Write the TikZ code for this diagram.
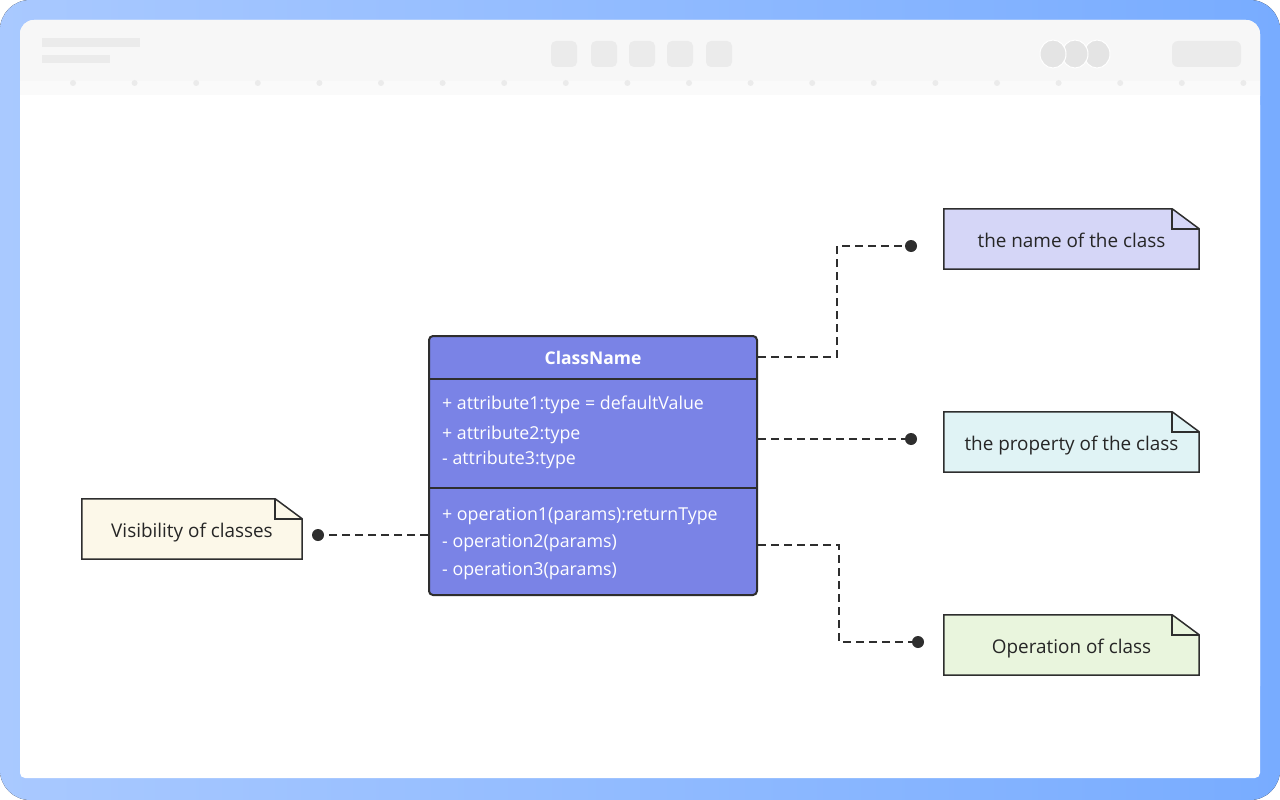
\documentclass[tikz,border=0pt]{standalone}
\usepackage{fontspec}
\setmainfont{Open Sans}
\usetikzlibrary{backgrounds}

\definecolor{frameLeft}{HTML}{A9C9FF}
\definecolor{frameRight}{HTML}{78ACFF}
\definecolor{barGray}{HTML}{F7F7F7}
\definecolor{stripGray}{HTML}{FAFAFA}
\definecolor{knobGray}{HTML}{EBEBEB}
\definecolor{avatarGray}{HTML}{E4E4E4}
\definecolor{classBlue}{HTML}{7A83E6}
\definecolor{lineDark}{HTML}{2E2E2E}
\definecolor{textDark}{HTML}{262626}
\definecolor{nameFill}{HTML}{D5D6F7}
\definecolor{propFill}{HTML}{E0F3F5}
\definecolor{opFill}{HTML}{E9F5DD}
\definecolor{visFill}{HTML}{FCF8E9}

\begin{document}
\begin{tikzpicture}[
        x=1pt, y=-1pt,
        classNode/.style={rectangle, draw=lineDark, line width=2pt, fill=classBlue, rounded corners=4pt, inner sep=0pt},
        memberText/.style={anchor=west, text=white, font=\fontsize{17.8}{20}\selectfont, inner sep=0pt,
            text height=14pt, text depth=0pt},
        noteNode/.style={rectangle, minimum height=60pt, inner sep=0pt, text=textDark, font=\fontsize{18.9}{22}\selectfont,
            text height=16pt, text depth=0pt},
        noteShape/.style={draw=lineDark, line width=1.5pt, line join=miter},
        dotNode/.style={circle, fill=lineDark, minimum size=12pt, inner sep=0pt},
        linkLine/.style={draw=lineDark, line width=2pt, dash pattern=on 8pt off 5pt}
    ]
        % Class box
        \node[classNode, minimum width=328pt, minimum height=259pt] (classBox) at (593,465.5) {};
        \draw[lineDark, line width=2pt] (classBox.west |- 0,379) -- (classBox.east |- 0,379);
        \draw[lineDark, line width=2pt] (classBox.west |- 0,488) -- (classBox.east |- 0,488);
        \node[text=white, font=\bfseries\fontsize{17.5}{21}\selectfont] (classTitle) at (593,358) {ClassName};

        % Attributes and operations
        \node[memberText] (attr1) at (442,402) {+ attribute1:type = defaultValue};
        \node[memberText] (attr2) at (442,432) {+ attribute2:type};
        \node[memberText] (attr3) at (442,457) {- attribute3:type};
        \node[memberText] (op1) at (442,513) {+ operation1(params):returnType};
        \node[memberText] (op2) at (442,540) {- operation2(params)};
        \node[memberText] (op3) at (442,568) {- operation3(params)};

        % Notes
        \node[noteNode, minimum width=255pt] (nameNote) at (1071.5,239) {the name of the class};
        \node[noteNode, minimum width=255pt] (propNote) at (1071.5,442) {the property of the class};
        \node[noteNode, minimum width=255pt] (opNote) at (1071.5,645) {Operation of class};
        \node[noteNode, minimum width=220pt] (visNote) at (192,529) {Visibility of classes};

        % Dots
        \node[dotNode] (nameDot) at (911,246) {};
        \node[dotNode] (propDot) at (911,439) {};
        \node[dotNode] (opDot) at (918,642) {};
        \node[dotNode] (visDot) at (318,535) {};

        % Dashed links
        \draw[linkLine] ([yshift=-22pt]classBox.north east) -- ++(79,0) |- (nameDot);
        \draw[linkLine] (classBox.east |- propDot) -- (propDot);
        \draw[linkLine] ([yshift=-210pt]classBox.north east) -- ++(81,0) |- (opDot);
        \draw[linkLine] (classBox.west |- visDot) -- (visDot);

        \begin{scope}[on background layer]
            % Window frame
            \fill[left color=frameLeft, right color=frameRight, rounded corners=30pt] (0,0) rectangle (1280,800);
            \fill[white, rounded corners=14pt] (20,20) rectangle (1260,700);
            \fill[white, rounded corners=5pt] (20,100) rectangle (1260,778);

            % Toolbar
            \fill[barGray, rounded corners=14pt] (20,20) rectangle (1260,110);
            \fill[white] (20,95) rectangle (1260,112);
            \fill[stripGray] (20,81) rectangle (1260,95);
            \foreach \k in {0,...,19}
                \fill[knobGray] (73+61.6*\k,83) circle (3pt);
            \fill[knobGray] (42,38) rectangle (140,47);
            \fill[knobGray] (42,55) rectangle (110,63);
            \foreach \bx in {551,591,629,667,706}
                \fill[knobGray, rounded corners=5pt] (\bx,41) rectangle ++(26,26);
            \foreach \cx in {1097,1075,1053}
                \filldraw[draw=white, line width=1pt, fill=avatarGray] (\cx,54) ellipse (13pt and 14pt);
            \fill[knobGray, rounded corners=6pt] (1172,41) rectangle (1241,67);

            % Note outlines with folded corner
            \foreach \n/\c in {nameNote/nameFill, propNote/propFill, opNote/opFill, visNote/visFill} {
                \filldraw[noteShape, fill=\c] (\n.south west) -- (\n.north west) -- ([xshift=-27pt]\n.north east)
                    -- ([yshift=-20pt]\n.north east) -- (\n.south east) -- cycle;
                \draw[noteShape] ([xshift=-27pt]\n.north east) -- ++(0,20) -- ([yshift=-20pt]\n.north east);
            }
        \end{scope}
    \end{tikzpicture}
\end{document}
